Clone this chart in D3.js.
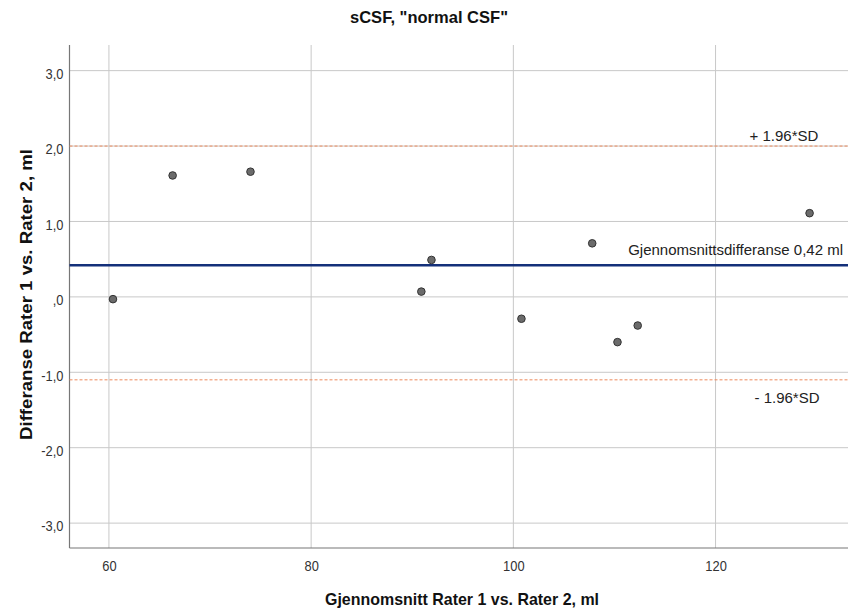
<!DOCTYPE html>
<html>
<head>
<meta charset="utf-8">
<script src="https://cdn.jsdelivr.net/npm/d3@7"></script>
<style>
  body { margin: 0; background: #fff; }
  svg { display: block; }
  text { font-family: "Liberation Sans", Arial, sans-serif; }
</style>
</head>
<body>
<svg id="chart" width="849" height="613"></svg>
<script>
// Bland-Altman: mean of the two raters vs. their difference
const meanValues = [60.4, 66.3, 74.0, 90.9, 91.9, 100.8, 107.8, 110.3, 112.3, 129.3];
const diffValues = [-0.03, 1.61, 1.66, 0.07, 0.49, -0.29, 0.71, -0.60, -0.38, 1.11];
const xTicks = [60, 80, 100, 120];
const yTicks = [-3, -2, -1, 0, 1, 2, 3];
const meanDiff = 0.42;
const upperLimit = 2.0;
const lowerLimit = -1.1;

const svg = d3.select("#chart");
const m = { left: 69.5, right: 848, top: 45, bottom: 548 };

const x = d3.scaleLinear().domain([56.1, 133.1]).range([m.left, m.right]);
const y = d3.scaleLinear().domain([-3.33, 3.34]).range([m.bottom, m.top]);

// comma decimals, plain hyphen for negatives, no leading zero
const fmtY = v => v === 0 ? ",0" : v.toFixed(1).replace(".", ",");

// gridlines
svg.append("g").selectAll("line").data(xTicks).join("line")
  .attr("x1", d => x(d)).attr("x2", d => x(d))
  .attr("y1", m.top).attr("y2", m.bottom)
  .attr("stroke", "#c8c8c8").attr("stroke-width", 1);
svg.append("g").selectAll("line").data(yTicks).join("line")
  .attr("x1", m.left).attr("x2", m.right)
  .attr("y1", d => y(d)).attr("y2", d => y(d))
  .attr("stroke", "#c8c8c8").attr("stroke-width", 1);

// axes
const yAxis = d3.axisLeft(y).tickValues(yTicks).tickSize(0).tickPadding(6).tickFormat(fmtY);
const xAxis = d3.axisBottom(x).tickValues(xTicks).tickSize(0).tickPadding(12).tickFormat(d3.format("d"));

const gy = svg.append("g").attr("transform", `translate(${m.left},0)`).call(yAxis);
const gx = svg.append("g").attr("transform", `translate(0,${m.bottom})`).call(xAxis);
[gx, gy].forEach(g => {
  g.select(".domain").remove();
  g.selectAll("text").attr("fill", "#333").attr("font-size", 15)
    .style("font-family", '"Liberation Sans", Arial, sans-serif');
});
// narrow tick labels, anchored at their own reference point
gy.selectAll("text").attr("dy", "0.52em")
  .attr("transform", function () { const xx = +d3.select(this).attr("x"); return `translate(${xx},0) scale(0.86,1)`; })
  .attr("x", 0);
gx.selectAll("text").attr("transform", "scale(0.86,1)");

svg.append("line").attr("x1", m.left).attr("x2", m.left).attr("y1", m.top).attr("y2", m.bottom)
  .attr("stroke", "#777").attr("stroke-width", 1.2);
svg.append("line").attr("x1", m.left).attr("x2", m.right).attr("y1", m.bottom).attr("y2", m.bottom)
  .attr("stroke", "#777").attr("stroke-width", 1.2);

// limits of agreement
[upperLimit, lowerLimit].forEach(v => {
  svg.append("line").attr("x1", m.left).attr("x2", m.right)
    .attr("y1", y(v)).attr("y2", y(v))
    .attr("stroke", "#ee8a5c").attr("stroke-width", 1).attr("stroke-dasharray", "3,2");
});
// mean difference
svg.append("line").attr("x1", m.left).attr("x2", m.right)
  .attr("y1", y(meanDiff)).attr("y2", y(meanDiff))
  .attr("stroke", "#14307a").attr("stroke-width", 2.5);

// line labels
const lbl = (txt, xx, yy, anchor) => svg.append("text").attr("x", xx).attr("y", yy)
  .attr("text-anchor", anchor).attr("font-size", 15).attr("fill", "#222").text(txt);
lbl("+ 1.96*SD", 784, y(upperLimit) - 5, "middle");
lbl("Gjennomsnittsdifferanse " + String(meanDiff).replace(".", ",") + " ml", 843, y(meanDiff) - 10, "end");
lbl("- 1.96*SD", 787, y(lowerLimit) + 23.5, "middle");

// points
svg.append("g").selectAll("circle").data(meanValues.map((v, i) => [v, diffValues[i]])).join("circle")
  .attr("cx", d => x(d[0])).attr("cy", d => y(d[1])).attr("r", 3.8)
  .attr("fill", "#6b6b6b").attr("stroke", "#333").attr("stroke-width", 1);

// titles
svg.append("text").attr("x", 429).attr("y", 23).attr("text-anchor", "middle")
  .attr("font-size", 17).attr("font-weight", "bold").attr("fill", "#111")
  .attr("textLength", 158).attr("lengthAdjust", "spacingAndGlyphs")
  .text('sCSF, "normal CSF"');
svg.append("text").attr("x", 462).attr("y", 605).attr("text-anchor", "middle")
  .attr("font-size", 17).attr("font-weight", "bold").attr("fill", "#111")
  .attr("textLength", 274).attr("lengthAdjust", "spacingAndGlyphs")
  .text("Gjennomsnitt Rater 1 vs. Rater 2, ml");
svg.append("text").attr("transform", `translate(32,294.5) rotate(-90)`)
  .attr("text-anchor", "middle")
  .attr("font-size", 17).attr("font-weight", "bold").attr("fill", "#111")
  .attr("textLength", 291).attr("lengthAdjust", "spacingAndGlyphs")
  .text("Differanse Rater 1 vs. Rater 2, ml");
</script>
</body>
</html>
